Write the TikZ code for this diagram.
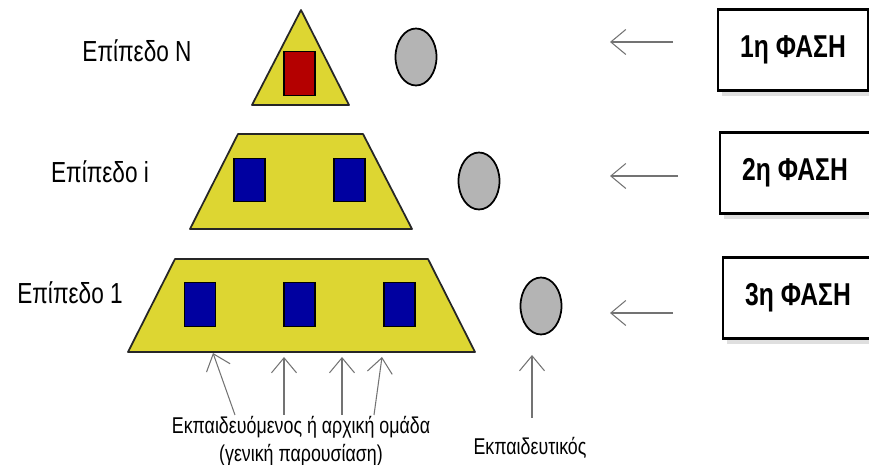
\documentclass[tikz,border=0pt]{standalone}
\usepackage{fontspec}
\setmainfont{Liberation Sans}
\newfontfamily\narrowfont[FakeStretch=0.78]{Liberation Sans}
\usetikzlibrary{positioning,shapes.geometric,arrows.meta,shadows}

\definecolor{levelyellow}{RGB}{221,214,50}
\definecolor{learnerblue}{RGB}{0,0,160}
\definecolor{leaderred}{RGB}{180,0,0}
\definecolor{teachergray}{RGB}{180,180,180}

\begin{document}
\begin{tikzpicture}[
  x=0.02cm, y=-0.02cm,
  level/.style={draw=black!85,fill=levelyellow,line width=1pt,line join=round},
  learner/.style={draw,line width=0.8pt,fill=learnerblue,minimum width=0.62cm,minimum height=0.87cm,inner sep=0pt},
  leader/.style={learner,fill=leaderred},
  teacher/.style={draw,ellipse,line width=1pt,fill=teachergray,minimum width=0.82cm,minimum height=1.14cm,inner sep=0pt},
  levellabel/.style={font=\narrowfont\fontsize{16.5}{18}\selectfont},
  phase/.style={draw,line width=1.6pt,fill=white,minimum width=3cm,minimum height=1.62cm,
    font=\narrowfont\bfseries\fontsize{18}{20}\selectfont,drop shadow={opacity=0.25,shadow xshift=2pt,shadow yshift=-3pt}},
  note/.style={font=\narrowfont\fontsize{13}{16}\selectfont,align=center},
  hint/.style={draw=black!55,line width=0.6pt,-{Straight Barb[length=0.3cm,width=0.5cm]}},
]
\useasboundingbox (0,0) rectangle (869,465);

% levels of the pyramid
\draw[level] (301,10) -- (349,105) -- (252,105) -- cycle;
\draw[level] (238,134) -- (363,134) -- (412,229) -- (190,229) -- cycle;
\draw[level] (175,259) -- (428,259) -- (475,352) -- (128,352) -- cycle;

\node[leader] (lead) at (299.5,73.5) {};
\node[learner] (ia) at (249.5,180) {};
\node[learner] (ib) at (349.5,180) {};
\node[learner] (oa) at (200,304.5) {};
\node[learner] (ob) at (299.5,304.5) {};
\node[learner] (oc) at (399.5,304.5) {};

\node[levellabel] (lvln) at (137,51) {Επίπεδο N};
\node[levellabel] (lvli) at (100,172) {Επίπεδο i};
\node[levellabel] (lvlone) at (70,293) {Επίπεδο 1};

% teachers
\node[teacher] (tn) at (416,57) {};
\node[teacher] (ti) at (479,181) {};
\node[teacher] (tone) at (541,306) {};

% phases
\node[phase] (ph1) at (793,50) {1η ΦΑΣΗ};
\node[phase] (ph2) at (795,173) {2η ΦΑΣΗ};
\node[phase] (ph3) at (798,298) {3η ΦΑΣΗ};

\coordinate (a1) at (673,42);  \coordinate (b1) at (610,42);
\coordinate (a2) at (678,176); \coordinate (b2) at (610,176);
\coordinate (a3) at (673,313); \coordinate (b3) at (610,313);

\path (a1) edge[hint] (b1)
(a2) edge[hint] (b2)
(a3) edge[hint] (b3);

% bottom notes
\node[note] (learners) at (301,441) {Εκπαιδευόμενος ή αρχική ομάδα\\(γενική παρουσίαση)};
\node[note] (teachnote) at (530,448) {Εκπαιδευτικός};

\coordinate (s1) at (235,415); \coordinate (e1) at (213,353);
\coordinate (s2) at (284,415); \coordinate (e2) at (284,357);
\coordinate (s3) at (342,415); \coordinate (e3) at (342,357);
\coordinate (s4) at (374,415); \coordinate (e4) at (382,357);
\coordinate (s5) at (532,418); \coordinate (e5) at (532,355);

\path (s1) edge[hint] (e1)
(s2) edge[hint] (e2)
(s3) edge[hint] (e3)
(s4) edge[hint] (e4)
(s5) edge[hint] (e5);
\end{tikzpicture}
\end{document}
